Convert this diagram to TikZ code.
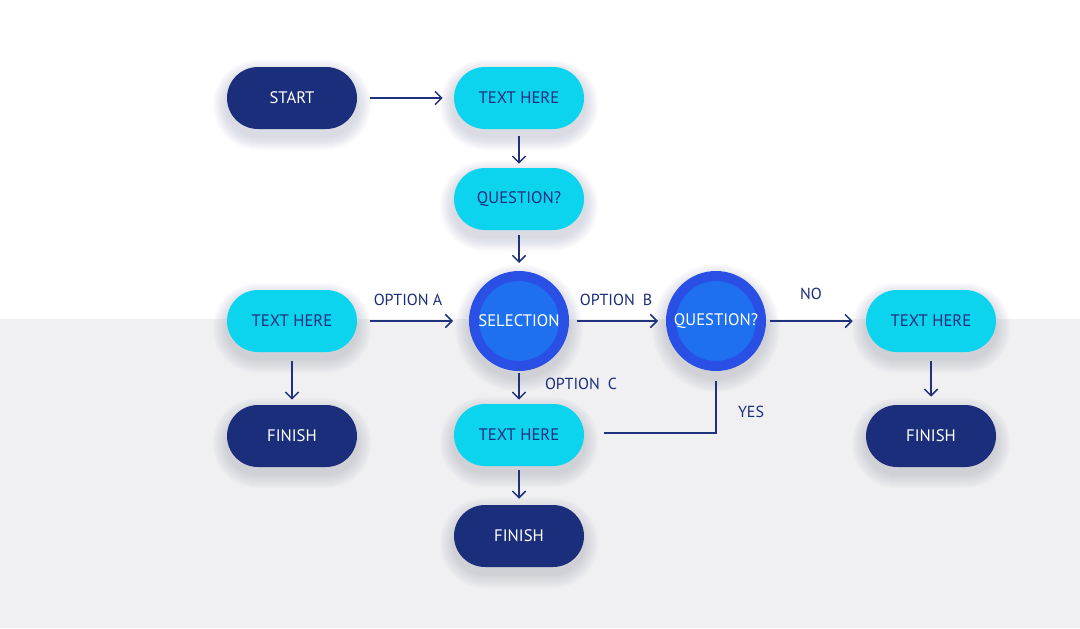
\documentclass[tikz,border=0pt]{standalone}
\usepackage{fontspec}
\setmainfont{PT Sans}
\usetikzlibrary{arrows.meta,calc}
\pgfdeclarelayer{bg}
\pgfsetlayers{bg,main}
\definecolor{navy}{HTML}{1B2E7B}
\definecolor{cyanpill}{HTML}{0DD4EE}
\definecolor{ringblue}{HTML}{2A4FE4}
\definecolor{innerblue}{HTML}{1F70F0}
\definecolor{arrowc}{HTML}{22317C}
\definecolor{bggray}{HTML}{F0F0F2}
\definecolor{shadowc}{HTML}{3A3F6A}
\tikzset{
  x=0.75pt, y=-0.75pt,
  pill/.style={rectangle, rounded corners=23.25pt, minimum width=97.5pt, minimum height=46.5pt, inner sep=0pt, font=\fontsize{12.5}{14}\selectfont},
  darkpill/.style={pill, fill=navy, text=white},
  lightpill/.style={pill, fill=cyanpill, text=navy},
  selcircle/.style={circle, fill=innerblue, draw=ringblue, line width=7.5pt, minimum size=67.5pt, inner sep=0pt, text=white, font=\fontsize{12.5}{14}\selectfont},
  arr/.style={draw=arrowc, line width=1.1pt, -{Straight Barb[length=5pt,width=10pt,line width=1.1pt]}},
  ln/.style={draw=arrowc, line width=1.1pt},
  lbl/.style={text=navy, font=\fontsize{12}{14}\selectfont, inner sep=0pt}
}
\newcommand{\pillshadow}[1]{%
  \foreach \k in {1,...,14}{%
    \pgfmathsetmacro{\rc}{(31+\k)*0.75}%
    \fill[shadowc, opacity=0.011, rounded corners=\rc pt]
      ($(#1.south west)+(-\k,\k+7)$) rectangle ($(#1.north east)+(\k,-\k+7)$);
  }}
\newcommand{\circshadow}[1]{%
  \foreach \k in {1,...,14}{%
    \fill[shadowc, opacity=0.011] ($(#1.center)+(0,7)$) circle[radius=50+\k];
  }}
\begin{document}
\begin{tikzpicture}
\useasboundingbox (0,0) rectangle (1080,628);

\node[darkpill] (start) at (292,98) {START};
\node[lightpill] (t1) at (519,98) {TEXT HERE};
\node[lightpill] (q1) at (519,199) {QUESTION?};
\node[lightpill] (tl) at (292,321) {TEXT HERE};
\node[selcircle] (sel) at (519,321) {SELECTION};
\node[selcircle] (q2) at (716,321) {QUESTION?};
\node[lightpill] (tr) at (931,321) {TEXT HERE};
\node[darkpill] (fl) at (292,436) {FINISH};
\node[lightpill] (tc) at (519,435) {TEXT HERE};
\node[darkpill] (fr) at (931,436) {FINISH};
\node[darkpill] (fb) at (519,536) {FINISH};

\begin{pgfonlayer}{bg}
\fill[white] (0,0) rectangle (1080,319);
\fill[bggray] (0,319) rectangle (1080,628);
\pillshadow{start}\pillshadow{t1}\pillshadow{q1}\pillshadow{tl}
\pillshadow{tr}\pillshadow{fl}\pillshadow{tc}\pillshadow{fr}\pillshadow{fb}
\circshadow{sel}\circshadow{q2}
\end{pgfonlayer}

\draw[arr] ($(start.east)+(13,0)$) -- ($(t1.west)+(-11,0)$);
\draw[arr] ($(t1.south)+(0,7)$) -- ($(q1.north)+(0,-4)$);
\draw[arr] ($(q1.south)+(0,5)$) -- ($(sel.north)+(0,-8)$);
\draw[arr] ($(tl.east)+(13,0)$) -- ($(sel.west)+(-16,0)$);
\draw[arr] ($(sel.east)+(8,0)$) -- ($(q2.west)+(-8,0)$);
\draw[arr] ($(q2.east)+(4,0)$) -- ($(tr.west)+(-13,0)$);
\draw[arr] ($(tl.south)+(0,9)$) -- ($(fl.north)+(0,-5)$);
\draw[arr] ($(sel.south)+(0,2)$) -- ($(tc.north)+(0,-4)$);
\draw[arr] ($(tr.south)+(0,9)$) -- ($(fr.north)+(0,-8)$);
\draw[arr] ($(tc.south)+(0,4)$) -- ($(fb.north)+(0,-6)$);
\coordinate (yc) at (716,433);
\draw[ln] ($(q2.south)+(0,10)$) -- (yc) -- ($(tc.east |- yc)+(20,0)$);

\node[lbl] (la) at (408,300) {OPTION A};
\node[lbl] (lb) at (616,300) {OPTION\enspace B};
\node[lbl] (lno) at (811,294) {NO};
\node[lbl] (lc) at (581,384) {OPTION\enspace C};
\node[lbl] (lyes) at (751,412) {YES};
\end{tikzpicture}
\end{document}
